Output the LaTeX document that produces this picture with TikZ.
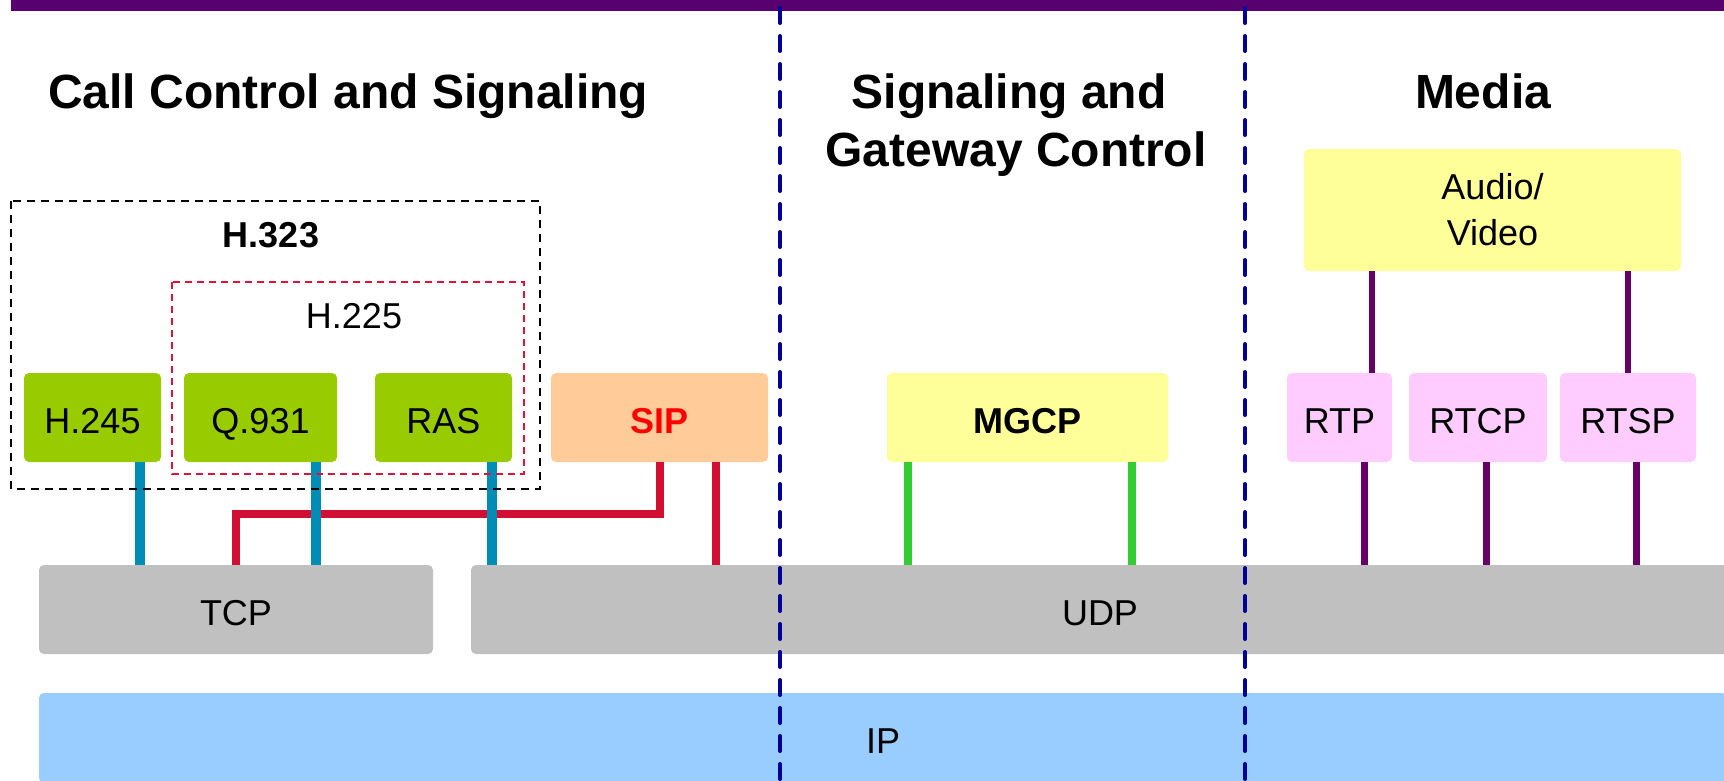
\documentclass[tikz,border=0pt]{standalone}
\usepackage{fontspec}
\setmainfont{Liberation Sans}
\definecolor{barpurple}{HTML}{580070}
\definecolor{lgreen}{HTML}{99CC00}
\definecolor{peach}{HTML}{FFCC99}
\definecolor{lgray}{HTML}{C0C0C0}
\definecolor{lblue}{HTML}{99CCFF}
\definecolor{lyellow}{HTML}{FFFF99}
\definecolor{lpink}{HTML}{FFCCFF}
\definecolor{tealline}{HTML}{008CB4}
\definecolor{redline}{HTML}{D20F32}
\definecolor{greenline}{HTML}{33CC33}
\definecolor{purpline}{HTML}{660066}
\definecolor{navyd}{HTML}{000099}
\definecolor{crimsond}{HTML}{DC143C}
\definecolor{sipred}{HTML}{FF0000}
\begin{document}
\begin{tikzpicture}[x=1pt,y=-1pt,
  boxbase/.style={rectangle, rounded corners=5pt, inner sep=0pt, minimum height=89pt,
    font=\fontsize{36}{46}\selectfont},
  lbl/.style={boxbase, text height=31pt, text depth=0pt},
  head/.style={inner sep=0pt, font=\fontsize{48}{57}\selectfont\bfseries},
  grp/.style={inner sep=0pt, font=\fontsize{36}{46}\selectfont},
  tl/.style={draw=tealline, line width=10pt},
  rl/.style={draw=redline, line width=8pt},
  gl/.style={draw=greenline, line width=8pt},
  pl/.style={draw=purpline, line width=7pt},
  sep/.style={draw=navyd, line width=4pt, line cap=round, dash pattern=on 15pt off 13pt}]
\useasboundingbox (0,0) rectangle (1724,781);
% top bar
\fill[barpurple] (11,0) rectangle (1740,11);
% headings
\node[head, anchor=base west] (hcall) at (48,109) {Call Control and Signaling};
\node[head, anchor=base] (hsig) at (1009,109) {Signaling and};
\node[head, anchor=base] (hgw) at (1016,166) {Gateway Control};
\node[head, anchor=base] (hmedia) at (1483,109) {Media};
% protocol boxes
\node[lbl, fill=lgreen, minimum width=137pt] (h245) at (92.5,417.5) {H.245};
\node[lbl, fill=lgreen, minimum width=153pt] (q931) at (260.5,417.5) {Q.931};
\node[lbl, fill=lgreen, minimum width=137pt] (ras) at (443.5,417.5) {RAS};
\node[lbl, fill=peach, minimum width=217pt, text=sipred, font=\fontsize{36}{46}\selectfont\bfseries] (sip) at (659.5,417.5) {SIP};
\node[lbl, fill=lyellow, minimum width=281pt, font=\fontsize{36}{46}\selectfont\bfseries] (mgcp) at (1027.5,417.5) {MGCP};
\node[lbl, fill=lpink, minimum width=105pt] (rtp) at (1339.5,417.5) {RTP};
\node[lbl, fill=lpink, minimum width=138pt] (rtcp) at (1478,417.5) {RTCP};
\node[lbl, fill=lpink, minimum width=136pt] (rtsp) at (1628,417.5) {RTSP};
\node[boxbase, fill=lyellow, minimum width=377pt, minimum height=122pt, align=center] (av) at (1492.5,210) {Audio/\\Video};
\node[lbl, fill=lgray, minimum width=394pt] (tcp) at (236,609.5) {TCP};
\node[lbl, fill=lgray, minimum width=1258pt] (udp) at (1100,609.5) {UDP};
\node[lbl, fill=lblue, minimum width=1688pt, minimum height=90pt] (ip) at (883,738) {IP};
% connectors
\draw[rl] (sip.south -| 660,0) -- (660,513.5) -| (tcp.north -| 236,0);
\draw[rl] (sip.south -| 716,0) -- (udp.north -| 716,0);
\draw[tl] (h245.south -| 140,0) -- (tcp.north -| 140,0);
\draw[tl] (q931.south -| 316,0) -- (tcp.north -| 316,0);
\draw[tl] (ras.south -| 492,0) -- (udp.north -| 492,0);
\draw[gl] (mgcp.south -| 908,0) -- (udp.north -| 908,0);
\draw[gl] (mgcp.south -| 1132,0) -- (udp.north -| 1132,0);
\draw[pl] (rtp.south -| 1364,0) -- (udp.north -| 1364,0);
\draw[pl] (rtcp.south -| 1486,0) -- (udp.north -| 1486,0);
\draw[pl] (rtsp.south -| 1636,0) -- (udp.north -| 1636,0);
\draw[pl, line width=6pt] (av.south -| 1372,0) -- (rtp.north -| 1372,0);
\draw[pl, line width=6pt] (av.south -| 1628,0) -- (rtsp.north -| 1628,0);
% group frames
\draw[black, line width=2pt, dash pattern=on 8pt off 6pt] (11,201) rectangle (540,489);
\node[grp, anchor=base, font=\fontsize{36}{46}\selectfont\bfseries] (h323) at (271,247) {H.323};
\draw[crimsond, line width=2pt, dash pattern=on 7pt off 5pt] (172,282) rectangle (524,474);
\node[grp, anchor=base] (h225) at (354,328) {H.225};
% separators
\coordinate (s1t) at (780,8);
\coordinate (s1b) at (780,795);
\coordinate (s2t) at (1245,8);
\coordinate (s2b) at (1245,795);
\draw[sep] (s1t) -- (s1b);
\draw[sep] (s2t) -- (s2b);
\end{tikzpicture}
\end{document}
